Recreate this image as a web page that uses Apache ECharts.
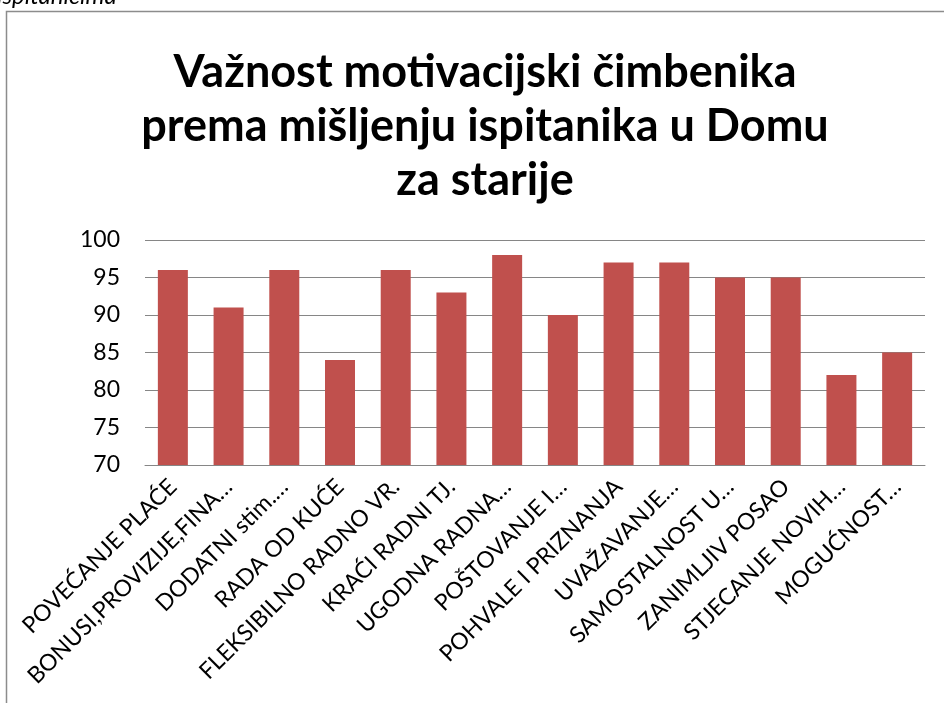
<!DOCTYPE html>
<html>
<head>
<meta charset="utf-8">
<script src="https://cdn.jsdelivr.net/npm/echarts@6/dist/echarts.min.js"></script>
<style>
html,body{margin:0;padding:0;background:#fff;}
#chart{width:944px;height:703px;}
</style>
</head>
<body>
<div id="chart"></div>
<script>
const titleText = "Važnost motivacijski čimbenika\nprema mišljenju ispitanika u Domu\nza starije";
const categories = [
  "POVEĆANJE PLAĆE",
  "BONUSI,PROVIZIJE,FINA…",
  "DODATNI stim.…",
  "RADA OD KUĆE",
  "FLEKSIBILNO RADNO VR.",
  "KRAĆI RADNI TJ.",
  "UGODNA RADNA…",
  "POŠTOVANJE I…",
  "POHVALE I PRIZNANJA",
  "UVAŽAVANJE…",
  "SAMOSTALNOST U…",
  "ZANIMLJIV POSAO",
  "STJECANJE NOVIH…",
  "MOGUĆNOST…"
];
const values = [96, 91, 96, 84, 96, 93, 98, 90, 97, 97, 95, 95, 82, 85];
const yMin = 70, yMax = 100, yStep = 5;

const chart = echarts.init(document.getElementById('chart'), null, {renderer: 'canvas'});
chart.setOption({
  animation: false,
  backgroundColor: '#fff',
  textStyle: {fontFamily: 'Lato'},
  title: {
    text: titleText,
    left: 480,
    textAlign: 'center',
    top: 40,
    textStyle: {fontFamily: 'Lato', fontWeight: 'bold', fontSize: 45, lineHeight: 54, color: '#000'}
  },
  graphic: [
    {type: 'rect', shape: {x: 6.5, y: 11.5, width: 1000, height: 1000},
     style: {fill: 'none', stroke: '#8c8c8c', lineWidth: 1.5}, z: -1},
    {type: 'text', left: -3, top: -16,
     style: {text: 'ispitanicima', font: 'italic 24px Lato', fill: '#000'}}
  ],
  grid: {left: 145, right: 19, top: 240, bottom: 238, containLabel: false},
  xAxis: {
    type: 'category',
    data: categories,
    axisLine: {show: true, lineStyle: {color: '#868686', width: 1}},
    axisTick: {show: false},
    axisLabel: {interval: 0, rotate: 45, fontSize: 23, color: '#000', fontFamily: 'Lato', margin: 18}
  },
  yAxis: {
    type: 'value',
    min: yMin, max: yMax, interval: yStep,
    axisLine: {show: false},
    axisTick: {show: false},
    axisLabel: {fontSize: 23, color: '#000', fontFamily: 'Lato', margin: 25},
    splitLine: {lineStyle: {color: '#868686', width: 1}}
  },
  series: [{
    type: 'bar',
    data: values,
    barWidth: 30,
    itemStyle: {color: '#C0504D'}
  }]
});
</script>
</body>
</html>
